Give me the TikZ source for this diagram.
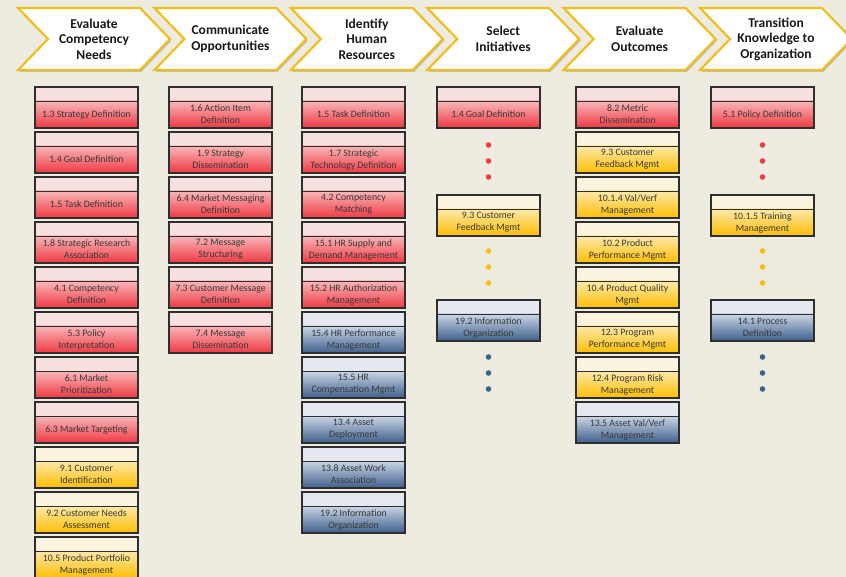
\documentclass[tikz,border=0pt]{standalone}
\usepackage{fontspec}
\setmainfont{Carlito}
\usetikzlibrary{shadows}

\definecolor{bg}{HTML}{EEECE1}
\definecolor{gold}{HTML}{F0BE1E}
\definecolor{boxline}{HTML}{2E2E2E}
\definecolor{boxtext}{HTML}{383838}
\definecolor{redstrip}{RGB}{246,224,224}
\definecolor{redtop}{RGB}{248,182,184}
\definecolor{redbot}{RGB}{240,56,66}
\definecolor{yelstrip}{RGB}{250,243,222}
\definecolor{yeltop}{RGB}{252,232,170}
\definecolor{yelbot}{RGB}{255,190,0}
\definecolor{bluestrip}{RGB}{229,233,239}
\definecolor{bluetop}{RGB}{202,214,230}
\definecolor{bluebot}{RGB}{62,94,140}
\definecolor{reddot}{RGB}{240,60,64}
\definecolor{yeldot}{RGB}{250,190,20}
\definecolor{bluedot}{RGB}{62,96,140}

\tikzset{
  chevshape/.style={fill=white, draw=gold, line width=2.2pt, line join=miter,
    drop shadow={shadow xshift=1.5pt, shadow yshift=-1.8pt, opacity=0.35, fill=black!55}},
  chevtext/.style={align=center, inner sep=0pt, text=black!90,
    font=\bfseries\fontsize{13.5}{15.5}\selectfont},
  pbox/.style n args={3}{draw=boxline, line width=1.2pt, minimum width=103pt,
    minimum height=41pt, inner sep=0pt,
    drop shadow={shadow xshift=1pt, shadow yshift=-1pt, opacity=0.25, fill=black!60},
    path picture={
      \fill[#1] (path picture bounding box.north west) rectangle
        ([yshift=-14pt]path picture bounding box.north east);
      \shade[top color=#2, bottom color=#3]
        ([yshift=-14pt]path picture bounding box.north west) rectangle
        (path picture bounding box.south east);
      \draw[boxline, line width=0.7pt]
        ([yshift=-14pt]path picture bounding box.north west) --
        ([yshift=-14pt]path picture bounding box.north east);
    }},
  redbox/.style={pbox={redstrip}{redtop}{redbot}},
  yelbox/.style={pbox={yelstrip}{yeltop}{yelbot}},
  bluebox/.style={pbox={bluestrip}{bluetop}{bluebot}},
  ptext/.style={align=center, inner sep=0pt, text=boxtext,
    font=\fontsize{9.8}{12}\selectfont},
}

% chevron: left x, node name, caption
\newcommand\chev[3]{%
  \path[chevshape] (#1,8) -- ++(122,0) -- ++(30,31) -- ++(-30,31)
    -- ++(-122,0) -- ++(30,-31) -- cycle;
  \node[chevtext] (#2) at (#1+76,39) {#3};
}
% process box: name, centre x, top y, colour style, caption
\newcommand\proc[5]{%
  \node[#4] (#1) at (#2,#3+20.5) {};
  \node[ptext] (#1-t) at ([yshift=-7pt]#1.center) {#5};
}
% three dots of a colour below a given y
\newcommand\dotrow[3]{%
  \fill[#3] (#1,#2) circle (2.8pt);
  \fill[#3] (#1,#2+16) circle (2.8pt);
  \fill[#3] (#1,#2+32) circle (2.8pt);
}

\begin{document}
\begin{tikzpicture}[x=1pt,y=-1pt]
\fill[bg] (0,0) rectangle (846,577);
\useasboundingbox (0,0) rectangle (846,577);

% phase chevrons
\chev{18}{h1}{Evaluate\\Competency\\Needs}
\chev{154.4}{h2}{Communicate\\Opportunities}
\chev{290.8}{h3}{Identify\\Human\\Resources}
\chev{427.2}{h4}{Select\\Initiatives}
\chev{563.6}{h5}{Evaluate\\Outcomes}
\chev{700}{h6}{Transition\\Knowledge to\\Organization}

% column 1
\proc{a1}{86.5}{87}{redbox}{1.3 Strategy Definition}
\proc{a2}{86.5}{132}{redbox}{1.4 Goal Definition}
\proc{a3}{86.5}{177}{redbox}{1.5 Task Definition}
\proc{a4}{86.5}{222}{redbox}{1.8 Strategic Research\\Association}
\proc{a5}{86.5}{267}{redbox}{4.1 Competency\\Definition}
\proc{a6}{86.5}{312}{redbox}{5.3 Policy\\Interpretation}
\proc{a7}{86.5}{357}{redbox}{6.1 Market\\Prioritization}
\proc{a8}{86.5}{402}{redbox}{6.3 Market Targeting}
\proc{a9}{86.5}{447}{yelbox}{9.1 Customer\\Identification}
\proc{a10}{86.5}{492}{yelbox}{9.2 Customer Needs\\Assessment}
\proc{a11}{86.5}{537}{yelbox}{10.5 Product Portfolio\\Management}

% column 2
\proc{b1}{220.5}{87}{redbox}{1.6 Action Item\\Definition}
\proc{b2}{220.5}{132}{redbox}{1.9 Strategy\\Dissemination}
\proc{b3}{220.5}{177}{redbox}{6.4 Market Messaging\\Definition}
\proc{b4}{220.5}{222}{redbox}{7.2 Message\\Structuring}
\proc{b5}{220.5}{267}{redbox}{7.3 Customer Message\\Definition}
\proc{b6}{220.5}{312}{redbox}{7.4 Message\\Dissemination}

% column 3
\proc{c1}{353.5}{87}{redbox}{1.5 Task Definition}
\proc{c2}{353.5}{132}{redbox}{1.7 Strategic\\Technology Definition}
\proc{c3}{353.5}{177}{redbox}{4.2 Competency\\Matching}
\proc{c4}{353.5}{222}{redbox}{15.1 HR Supply and\\Demand Management}
\proc{c5}{353.5}{267}{redbox}{15.2 HR Authorization\\Management}
\proc{c6}{353.5}{312}{bluebox}{15.4 HR Performance\\Management}
\proc{c7}{353.5}{357}{bluebox}{15.5 HR\\Compensation Mgmt}
\proc{c8}{353.5}{402}{bluebox}{13.4 Asset\\Deployment}
\proc{c9}{353.5}{447}{bluebox}{13.8 Asset Work\\Association}
\proc{c10}{353.5}{492}{bluebox}{19.2 Information\\Organization}

% column 4
\proc{d1}{488.5}{87}{redbox}{1.4 Goal Definition}
\dotrow{488.5}{145}{reddot}
\proc{d2}{488.5}{195}{yelbox}{9.3 Customer\\Feedback Mgmt}
\dotrow{488.5}{251}{yeldot}
\proc{d3}{488.5}{300}{bluebox}{19.2 Information\\Organization}
\dotrow{488.5}{357}{bluedot}

% column 5
\proc{e1}{627.5}{87}{redbox}{8.2 Metric\\Dissemination}
\proc{e2}{627.5}{132}{yelbox}{9.3 Customer\\Feedback Mgmt}
\proc{e3}{627.5}{177}{yelbox}{10.1.4 Val/Verf\\Management}
\proc{e4}{627.5}{222}{yelbox}{10.2 Product\\Performance Mgmt}
\proc{e5}{627.5}{267}{yelbox}{10.4 Product Quality\\Mgmt}
\proc{e6}{627.5}{312}{yelbox}{12.3 Program\\Performance Mgmt}
\proc{e7}{627.5}{357}{yelbox}{12.4 Program Risk\\Management}
\proc{e8}{627.5}{402}{bluebox}{13.5 Asset Val/Verf\\Management}

% column 6
\proc{f1}{762.5}{87}{redbox}{5.1 Policy Definition}
\dotrow{762.5}{145}{reddot}
\proc{f2}{762.5}{195}{yelbox}{10.1.5 Training\\Management}
\dotrow{762.5}{251}{yeldot}
\proc{f3}{762.5}{300}{bluebox}{14.1 Process\\Definition}
\dotrow{762.5}{357}{bluedot}
\end{tikzpicture}
\end{document}
